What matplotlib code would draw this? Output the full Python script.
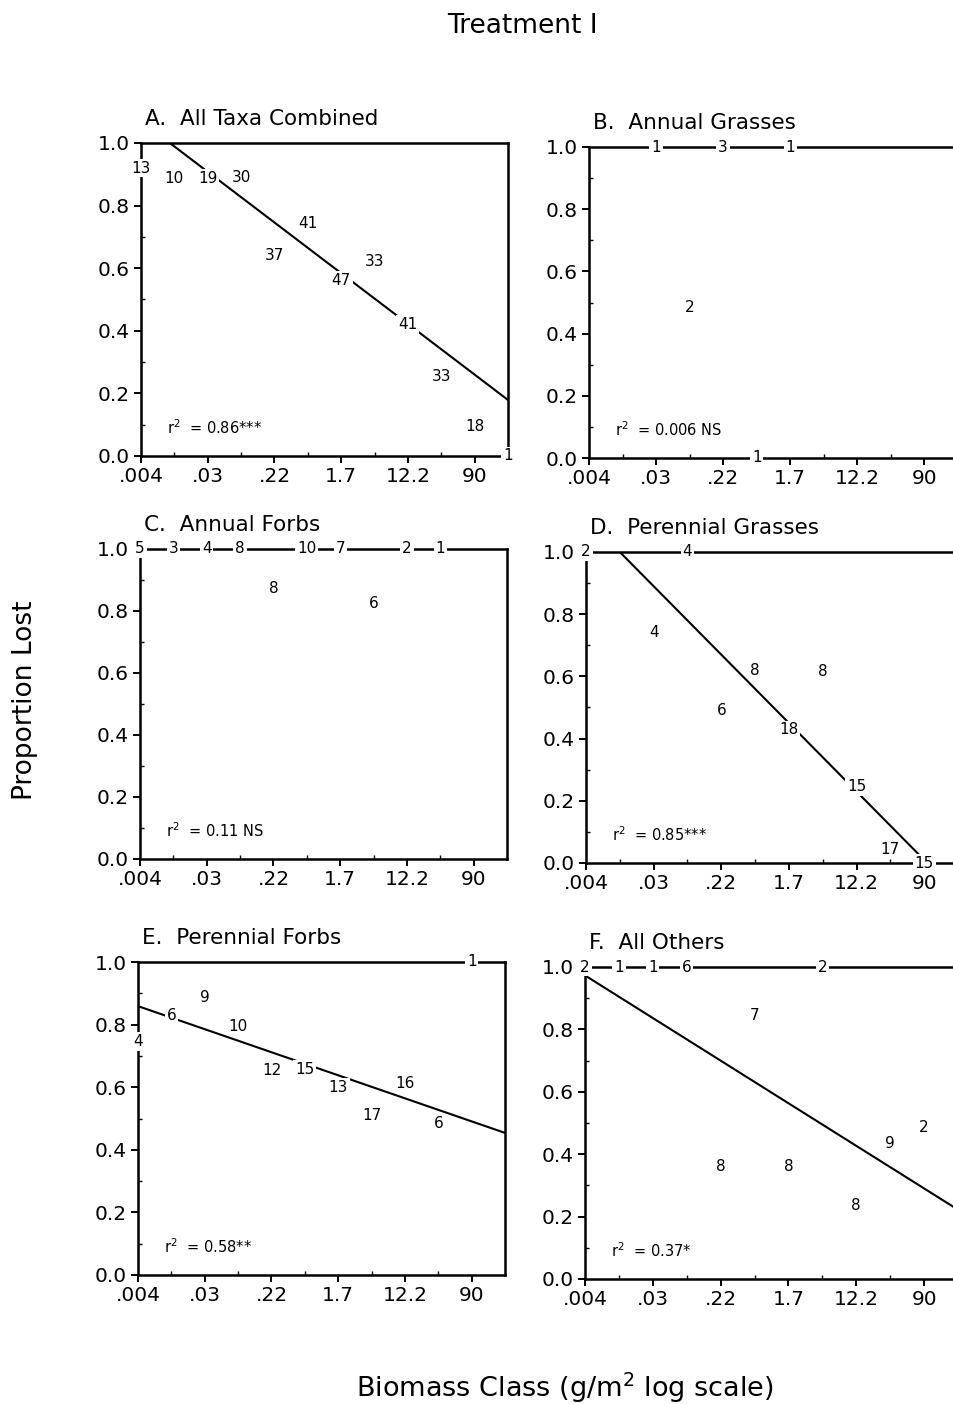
import matplotlib.pyplot as plt
import numpy as np

plt.rcParams['font.family'] = ['DejaVu Sans']

# biomass class index (0 = .004 ... 10 = 90), tick labels every second class
tick_classes = [0, 2, 4, 6, 8, 10]
tick_labels = ['.004', '.03', '.22', '1.7', '12.2', '90']

# panel A: all taxa combined
a_cls = [0, 1, 2, 3, 4, 5, 6, 7, 8, 9, 10, 11]
a_val = [0.92, 0.888, 0.888, 0.89, 0.641, 0.743, 0.562, 0.62, 0.421, 0.255, 0.094, 0.0]
a_n = ['13', '10', '19', '30', '37', '41', '47', '33', '41', '33', '18', '1']
a_fit = [1.07, 0.179]          # fitted line at class 0 and class 11

# panel B: annual grasses
b_cls = [2, 3, 4, 5, 6]
b_val = [1.0, 0.485, 1.0, 0.0, 1.0]
b_n = ['1', '2', '3', '1', '1']

# panel C: annual forbs
c_cls = [0, 1, 2, 3, 4, 5, 6, 7, 8, 9]
c_val = [1.0, 1.0, 1.0, 1.0, 0.874, 1.0, 1.0, 0.823, 1.0, 1.0]
c_n = ['5', '3', '4', '8', '8', '10', '7', '6', '2', '1']

# panel D: perennial grasses
d_cls = [0, 2, 3, 4, 5, 6, 7, 8, 9, 10]
d_val = [1.0, 0.741, 1.0, 0.489, 0.62, 0.428, 0.615, 0.246, 0.045, 0.0]
d_n = ['2', '4', '4', '6', '8', '18', '8', '15', '17', '15']
d_fit = [1.11, -0.10]

# panel E: perennial forbs
e_cls = [0, 1, 2, 3, 4, 5, 6, 7, 8, 9, 10]
e_val = [0.745, 0.83, 0.886, 0.793, 0.654, 0.656, 0.599, 0.51, 0.612, 0.484, 1.0]
e_n = ['4', '6', '9', '10', '12', '15', '13', '17', '16', '6', '1']
e_fit = [0.859, 0.454]

# panel F: all others
f_cls = [0, 1, 2, 3, 4, 5, 6, 7, 8, 9, 10]
f_val = [1.0, 1.0, 1.0, 1.0, 0.362, 0.845, 0.36, 1.0, 0.235, 0.433, 0.486]
f_n = ['2', '1', '1', '6', '8', '7', '8', '2', '8', '9', '2']
f_fit = [0.973, 0.222]

panels = [
    ('A.  All Taxa Combined', a_cls, a_val, a_n, a_fit, 'r$^2$  = 0.86***'),
    ('B.  Annual Grasses', b_cls, b_val, b_n, None, 'r$^2$  = 0.006 NS'),
    ('C.  Annual Forbs', c_cls, c_val, c_n, None, 'r$^2$  = 0.11 NS'),
    ('D.  Perennial Grasses', d_cls, d_val, d_n, d_fit, 'r$^2$  = 0.85***'),
    ('E.  Perennial Forbs', e_cls, e_val, e_n, e_fit, 'r$^2$  = 0.58**'),
    ('F.  All Others', f_cls, f_val, f_n, f_fit, 'r$^2$  = 0.37*'),
]

# axes boxes in pixels: left, right, top, bottom
boxes = [(141, 508, 143, 456), (589, 958, 147, 458),
         (140, 507, 549, 859), (586, 958, 552, 863),
         (138, 505, 962, 1275), (585, 958, 967, 1279)]

W, H = 954, 1404
fig = plt.figure(figsize=(W / 100, H / 100), dpi=100)

for (title, cls, val, n, fit, r2), (l, r, t, b) in zip(panels, boxes):
    ax = fig.add_axes([l / W, 1 - b / H, (r - l) / W, (b - t) / H])
    ax.set_xlim(0, 11)
    ax.set_ylim(0, 1.0)
    for s in ax.spines.values():
        s.set_linewidth(1.8)
    ax.set_xticks(tick_classes)
    ax.set_xticklabels(tick_labels, fontsize=14.5)
    ax.set_xticks(np.arange(1, 11, 2), minor=True)
    ax.set_yticks(np.arange(0, 1.01, 0.2))
    ax.set_yticklabels(['%.1f' % v for v in np.arange(0, 1.01, 0.2)], fontsize=14.5)
    ax.set_yticks(np.arange(0.1, 1.0, 0.2), minor=True)
    ax.tick_params(which='major', direction='out', length=5, width=1.4, pad=3)
    ax.tick_params(which='minor', direction='in', length=3, width=1.0)

    if fit is not None:
        ax.plot([0, 11], fit, color='black', linewidth=1.5)

    for k, v, lab in zip(cls, val, n):
        ax.text(k, v, lab, fontsize=11, ha='center', va='center', zorder=5,
                bbox=dict(boxstyle='square,pad=0.12', fc='white', ec='none'))

    ax.text(0.07, 0.06, r2, transform=ax.transAxes, fontsize=10.5,
            ha='left', va='bottom')
    ax.annotate(title, xy=(0, 1), xycoords='axes fraction', xytext=(3, 10),
                textcoords='offset points', ha='left', va='bottom', fontsize=15.5)

fig.text(522 / W, 1 - 26 / H, 'Treatment I', fontsize=19, ha='center', va='center')
fig.text(25 / W, 1 - 700 / H, 'Proportion Lost', fontsize=19, rotation=90,
         ha='center', va='center')
fig.text(565 / W, 1 - 1388 / H, 'Biomass Class (g/m$^2$ log scale)', fontsize=19.5,
         ha='center', va='center')

fig.savefig('out.png', dpi=100)
